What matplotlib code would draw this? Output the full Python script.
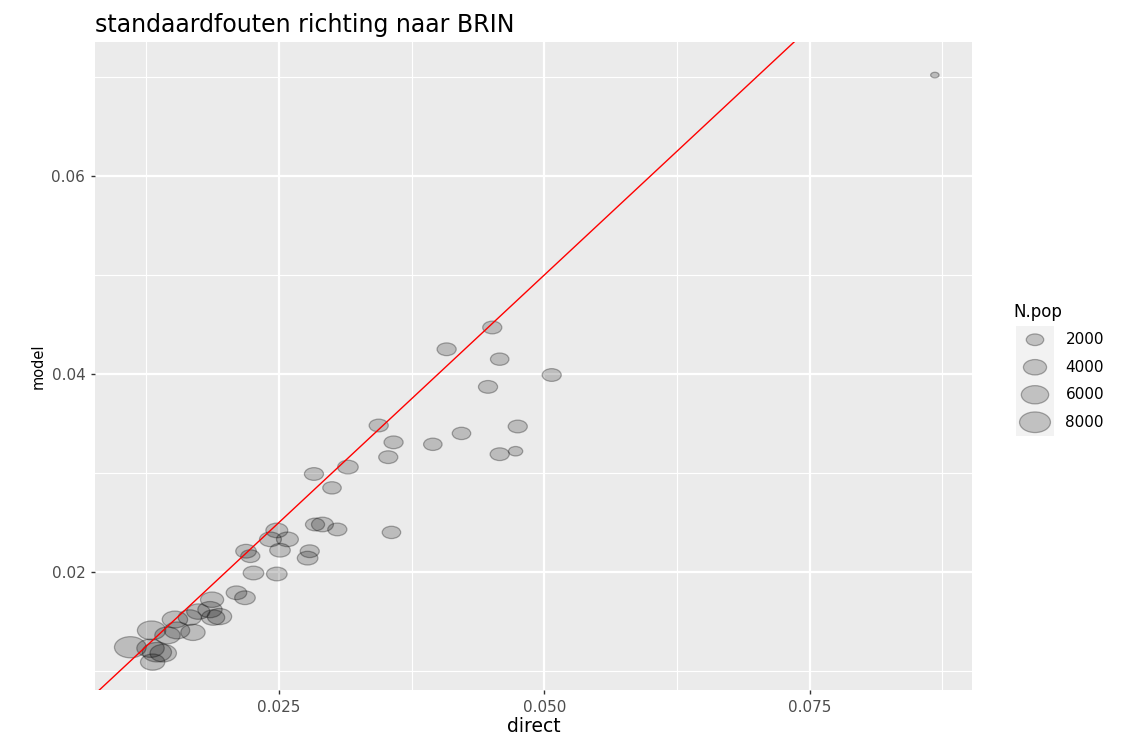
import numpy as np
import matplotlib.pyplot as plt
from matplotlib.path import Path

# data
direct = [0.0868, 0.0451, 0.0408, 0.0458, 0.0507, 0.0447, 0.0344, 0.0475, 0.0422,
          0.0358, 0.0395, 0.0353, 0.0458, 0.0473, 0.0315, 0.0283, 0.0300, 0.0356,
          0.0305, 0.0291, 0.0284, 0.0248, 0.0242, 0.0258, 0.0251, 0.0219, 0.0223,
          0.0279, 0.0277, 0.0226, 0.0248, 0.0210, 0.0218, 0.0187, 0.0185, 0.0194,
          0.0188, 0.0174, 0.0166, 0.0152, 0.0169, 0.0154, 0.0145, 0.0130, 0.0110,
          0.0129, 0.0135, 0.0141, 0.0131]
model = [0.0702, 0.0447, 0.0425, 0.0415, 0.0399, 0.0387, 0.0348, 0.0347, 0.0340,
         0.0331, 0.0329, 0.0316, 0.0319, 0.0322, 0.0306, 0.0299, 0.0285, 0.0240,
         0.0243, 0.0248, 0.0248, 0.0242, 0.0233, 0.0233, 0.0222, 0.0221, 0.0216,
         0.0221, 0.0214, 0.0199, 0.0198, 0.0179, 0.0174, 0.0172, 0.0162, 0.0155,
         0.0154, 0.0160, 0.0154, 0.0152, 0.0139, 0.0141, 0.0136, 0.0141, 0.0124,
         0.0123, 0.0119, 0.0118, 0.0109]
n_pop = [400, 2500, 2500, 2300, 2500, 2500, 2500, 2500, 2300,
         2500, 2300, 2500, 2500, 1200, 3000, 2500, 2300, 2300,
         2500, 3500, 2500, 3500, 3500, 3500, 3000, 3000, 2500,
         2500, 3000, 3000, 3000, 3000, 3000, 4000, 4500, 4500,
         4000, 4000, 4000, 5000, 4500, 5000, 5000, 6500, 8500,
         6000, 7000, 5500, 4500]

legend_n = [2000, 4000, 6000, 8000]

x_ticks = [0.025, 0.050, 0.075]
y_ticks = [0.02, 0.04, 0.06]

N_MIN, N_MAX = 300, 9500
STRETCH = 1.5
FACE = (0, 0, 0, 0.2)
EDGE = (0, 0, 0, 0.3)

# elliptical marker, the picture is stretched sideways
circ = Path.unit_circle()
ellipse = Path(circ.vertices * [STRETCH, 1.0], circ.codes)


def marker_area(n):
    # ggplot-like area scale, returns scatter size (pt^2)
    t = np.clip((np.asarray(n, float) - N_MIN) / (N_MAX - N_MIN), 0, 1)
    h_px = 3.7 * (1 + 5 * np.sqrt(t))
    w_pt = h_px * STRETCH * 0.72
    return w_pt ** 2


fig = plt.figure(figsize=(11.21, 7.38), dpi=100)
ax = fig.add_axes([95 / 1121, 48 / 738, 877 / 1121, 648 / 738])
ax.set_facecolor("#EBEBEB")

ax.set_xlim(0.00767, 0.0903)
ax.set_ylim(0.00808, 0.07354)
ax.set_xticks(x_ticks)
ax.set_xticklabels(["0.025", "0.050", "0.075"])
ax.set_yticks(y_ticks)
ax.set_yticklabels(["0.02", "0.04", "0.06"])
ax.set_xticks([0.0125, 0.0375, 0.0625, 0.0875], minor=True)
ax.set_yticks([0.01, 0.03, 0.05, 0.07], minor=True)
ax.grid(which="major", color="white", lw=1.6)
ax.grid(which="minor", color="white", lw=0.8)
ax.set_axisbelow(True)
for s in ax.spines.values():
    s.set_visible(False)
ax.tick_params(which="major", length=3, width=1, color="#333333",
               labelcolor="#4D4D4D", labelsize=11, pad=4)
ax.tick_params(which="minor", length=0)

ax.scatter(direct, model, s=marker_area(n_pop), marker=ellipse,
           facecolor=FACE, edgecolor=EDGE, lw=0.9, zorder=2)
ax.axline((0, 0), slope=1, color="red", lw=1.0, zorder=3)

ax.set_xlabel("direct", fontsize=13.5, labelpad=2)
ax.set_ylabel("model", fontsize=10.5, labelpad=4)
ax.set_title("standaardfouten richting naar BRIN", fontsize=17, loc="left", pad=7)

# legend drawn by hand like ggplot's keys
fig.text(1013 / 1121, 1 - 312 / 738, "N.pop", fontsize=12, va="center", ha="left")
leg = fig.add_axes([1016 / 1121, 1 - 436 / 738, 38 / 1121, 110 / 738])
leg.set_facecolor("#F2F2F2")
leg.set_xlim(0, 1)
leg.set_ylim(len(legend_n) - 0.5, -0.5)
leg.set_xticks([])
leg.set_yticks([])
for s in leg.spines.values():
    s.set_visible(False)
yk = np.arange(len(legend_n))
leg.scatter(np.full(len(legend_n), 0.5), yk, s=marker_area(legend_n), marker=ellipse,
            facecolor=FACE, edgecolor=EDGE, lw=0.9)
for i, n in enumerate(legend_n):
    leg.text(1.3, i, str(n), fontsize=11, va="center", ha="left",
             transform=leg.transData, clip_on=False)

fig.savefig("out.png", dpi=100)
